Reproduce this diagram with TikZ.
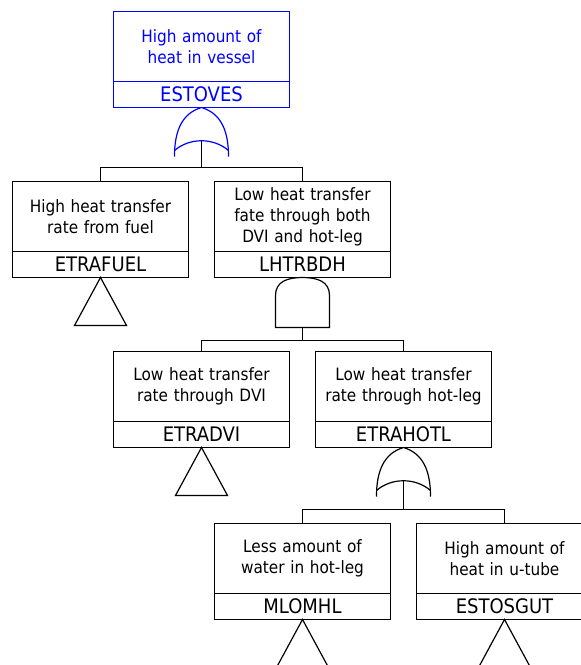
\documentclass[tikz,border=0pt]{standalone}
\usepackage{fontspec}
\newfontfamily\treefont{DejaVu Sans Condensed}
\usetikzlibrary{positioning,calc}
\tikzset{
  desc/.style  ={draw, line width=1.2pt, minimum width=176pt, minimum height=70pt, text width=170pt, align=center, inner sep=0pt, outer sep=0pt, font=\treefont\fontsize{17}{21}\selectfont},
  ident/.style ={draw, line width=1.2pt, minimum width=176pt, minimum height=26pt, inner sep=0pt, outer sep=0pt, font=\treefont\fontsize{20}{22}\selectfont},
  wire/.style  ={draw, line width=1.2pt},
  topev/.style ={draw=blue, text=blue},
  orgate/.pic  ={
    \draw[line width=1.2pt] (0,0) .. controls (-20,6) and (-27,24) .. (-27,49);
    \draw[line width=1.2pt] (0,0) .. controls (20,6) and (27,24) .. (27,49);
    \draw[line width=1.2pt] (-27,43) .. controls (-12,30) and (12,30) .. (27,43);
    \coordinate (-out) at (0,33);
  },
  andgate/.pic ={
    \draw[line width=1.2pt] (-27,50) -- (-27,18) .. controls (-27,4) and (-15,0) .. (0,0)
      .. controls (15,0) and (27,4) .. (27,18) -- (27,50) -- cycle;
    \coordinate (-out) at (0,50);
  },
  basic/.pic   ={
    \draw[line width=1.2pt] (0,0) -- (-26,48) -- (26,48) -- cycle;
  },
}

\begin{document}
\begin{tikzpicture}[x=1pt, y=-1pt]
  \clip (0,0) rectangle (581,665);
  \begin{scope}[shift={(0.5,0.5)}]
  % top event
  \node[desc, topev] (estoves-d) at (201,46) {High amount of\\heat in vessel};
  \node[ident, topev, below=0pt of estoves-d] (estoves) {ESTOVES};
  \pic[blue] (g1) at (estoves.south) {orgate};

  % second row
  \node[desc] (etrafuel-d) at (100,216) {High heat transfer\\rate from fuel};
  \node[ident, below=0pt of etrafuel-d] (etrafuel) {ETRAFUEL};
  \node[desc, right=26pt of etrafuel-d] (lhtrbdh-d) {Low heat transfer\\fate through both\\DVI and hot-leg};
  \node[ident, below=0pt of lhtrbdh-d] (lhtrbdh) {LHTRBDH};
  \pic at (etrafuel.south) {basic};
  \pic (g2) at (lhtrbdh.south) {andgate};

  % third row
  \node[desc] (etradvi-d) at (201,386) {Low heat transfer\\rate through DVI};
  \node[ident, below=0pt of etradvi-d] (etradvi) {ETRADVI};
  \node[desc, right=26pt of etradvi-d] (etrahotl-d) {Low heat transfer\\rate through hot-leg};
  \node[ident, below=0pt of etrahotl-d] (etrahotl) {ETRAHOTL};
  \pic at (etradvi.south) {basic};
  \pic (g3) at (etrahotl.south) {orgate};

  % fourth row
  \node[desc] (mlomhl-d) at (302,558) {Less amount of\\water in hot-leg};
  \node[ident, below=0pt of mlomhl-d] (mlomhl) {MLOMHL};
  \node[desc, right=26pt of mlomhl-d] (estosgut-d) {High amount of\\heat in u-tube};
  \node[ident, below=0pt of estosgut-d] (estosgut) {ESTOSGUT};
  \pic at (mlomhl.south) {basic};
  \pic at (estosgut.south) {basic};

  % wires
  \draw[wire] (g1-out) -- ++(0,27) coordinate (b1);
  \draw[wire] (etrafuel-d.north) |- (b1) -| (lhtrbdh-d.north);
  \draw[wire] (g2-out) -- ++(0,13) coordinate (b2);
  \draw[wire] (etradvi-d.north) |- (b2) -| (etrahotl-d.north);
  \draw[wire] (g3-out) -- ++(0,29) coordinate (b3);
  \draw[wire] (mlomhl-d.north) |- (b3) -| (estosgut-d.north);
  \end{scope}
\end{tikzpicture}
\end{document}
